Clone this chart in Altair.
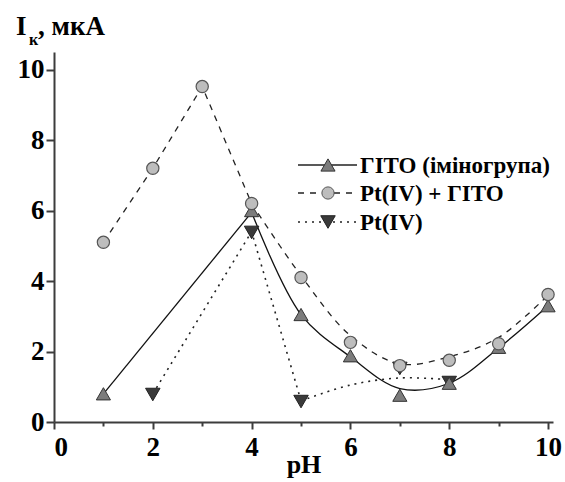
import altair as alt
import pandas as pd

# ---- data ----
ph_gito = [1, 4, 5, 6, 7, 8, 9, 10]
i_gito = [0.8, 6.0, 3.05, 1.88, 0.76, 1.1, 2.12, 3.3]

ph_mix = [1, 2, 3, 4, 5, 6, 7, 8, 9, 10]
i_mix = [5.1, 7.2, 9.52, 6.2, 4.1, 2.26, 1.6, 1.75, 2.22, 3.62]

ph_pt = [2, 4, 5, 7, 8]
i_pt = [0.78, 5.38, 0.58, 1.52, 1.12]

# fitted curves as drawn in the picture (straight part + smooth part)
gito_lin_x = [1, 4]
gito_lin_y = [0.8, 5.95]
gito_fit_x = [4, 5, 6, 7, 8, 9, 10]
gito_fit_y = [5.95, 3.05, 1.85, 0.95, 1.1, 2.1, 3.3]

mix_lin_x = [1, 2, 3, 4]
mix_lin_y = [5.1, 7.2, 9.52, 6.2]
mix_fit_x = [4, 5, 6, 7, 8, 9, 10]
mix_fit_y = [6.2, 4.15, 2.45, 1.65, 1.85, 2.4, 3.6]

pt_lin_x = [2, 4, 5]
pt_lin_y = [0.8, 5.4, 0.6]
pt_fit_x = [5, 6, 7, 8]
pt_fit_y = [0.6, 1.05, 1.25, 1.2]

legend_labels = ["ГІТО (імінoгрупа)", "Pt(IV) + ГІТО", "Pt(IV)"]

FONT = "Liberation Serif"
AX = "#3c3c3c"

x_scale = alt.Scale(domain=[0, 10.1], nice=False, zero=False)
y_scale = alt.Scale(domain=[0, 10.5], nice=False, zero=False)

x_axis = alt.Axis(
    values=list(range(0, 11)),
    labelExpr="datum.value % 2 === 0 ? datum.label : ''",
    labelOverlap=False,
    tickSize={"condition": {"test": "datum.value % 2 !== 0", "value": 4}, "value": 7},
    tickWidth=2, tickColor=AX, domainColor=AX, domainWidth=2,
    labelFont=FONT, labelFontWeight="bold", labelFontSize=27, labelColor="black",
    labelPadding=5, grid=False,
    title="pH", titleFont=FONT, titleFontWeight="bold", titleFontSize=26,
    titleColor="black", titlePadding=-9,
)
y_axis = alt.Axis(
    values=list(range(0, 11)),
    labelExpr="datum.value % 2 === 0 ? datum.label : ''",
    labelOverlap=False,
    tickSize={"condition": {"test": "datum.value % 2 !== 0", "value": 4}, "value": 8},
    tickWidth=2, tickColor=AX, domainColor=AX, domainWidth=2,
    labelFont=FONT, labelFontWeight="bold", labelFontSize=27, labelColor="black",
    labelPadding=2, grid=False, title=None,
)


def df(xs, ys):
    return pd.DataFrame({"ph": xs, "i": ys})


def enc(ch, first=False):
    if first:
        return ch.encode(
            x=alt.X("ph:Q", scale=x_scale, axis=x_axis),
            y=alt.Y("i:Q", scale=y_scale, axis=y_axis),
        )
    return ch.encode(
        x=alt.X("ph:Q", scale=x_scale),
        y=alt.Y("i:Q", scale=y_scale),
    )


LW = 1.3
# lines
l_mix_a = enc(alt.Chart(df(mix_lin_x, mix_lin_y)).mark_line(color="#222", strokeWidth=LW, strokeDash=[6, 6]), first=True)
l_mix_b = enc(alt.Chart(df(mix_fit_x, mix_fit_y)).mark_line(color="#222", strokeWidth=LW, strokeDash=[6, 6], interpolate="catmull-rom"))
l_gito_a = enc(alt.Chart(df(gito_lin_x, gito_lin_y)).mark_line(color="#111", strokeWidth=LW))
l_gito_b = enc(alt.Chart(df(gito_fit_x, gito_fit_y)).mark_line(color="#111", strokeWidth=LW, interpolate="catmull-rom"))
l_pt_a = enc(alt.Chart(df(pt_lin_x, pt_lin_y)).mark_line(color="#222", strokeWidth=LW + 0.3, strokeDash=[2, 5]))
l_pt_b = enc(alt.Chart(df(pt_fit_x, pt_fit_y)).mark_line(color="#222", strokeWidth=LW + 0.3, strokeDash=[2, 5], interpolate="catmull-rom"))

# markers
m_pt = enc(alt.Chart(df(ph_pt, i_pt)).mark_point(shape="triangle-down", size=210, filled=True, fill="#3a3a3a", stroke="#222", strokeWidth=1, opacity=1))
m_gito = enc(alt.Chart(df(ph_gito, i_gito)).mark_point(shape="triangle-up", size=200, filled=True, fill="#7c7c7c", stroke="#333", strokeWidth=1, opacity=1))
m_mix = enc(alt.Chart(df(ph_mix, i_mix)).mark_point(shape="circle", size=150, filled=True, fill="#bdbdbd", stroke="#555", strokeWidth=1.2, opacity=1))

# manual legend (pixel positions inside the plot area)
rows_y = [113, 141, 170]
lx1, lx2, mx, tx = 244, 303, 274, 306
leg_layers = []
dashes = [None, [6, 6], [2, 5]]
shapes = [("triangle-up", "#7c7c7c", "#333", 200), ("circle", "#bdbdbd", "#555", 150), ("triangle-down", "#3a3a3a", "#222", 210)]
for k in range(3):
    base = alt.Chart(pd.DataFrame({"t": [legend_labels[k]]}))
    rule_kw = dict(color="#222", strokeWidth=LW)
    if dashes[k] is not None:
        rule_kw["strokeDash"] = dashes[k]
    leg_layers.append(base.mark_rule(**rule_kw).encode(
        x=alt.value(lx1), x2=alt.value(lx2), y=alt.value(rows_y[k])))
    shp, fc, sc, sz = shapes[k]
    leg_layers.append(base.mark_point(shape=shp, size=sz, filled=True, fill=fc, stroke=sc, strokeWidth=1, opacity=1).encode(
        x=alt.value(mx), y=alt.value(rows_y[k])))
    leg_layers.append(base.mark_text(align="left", baseline="middle", font=FONT, fontWeight="bold", fontSize=23, color="black", dy=1).encode(
        text="t:N", x=alt.value(tx), y=alt.value(rows_y[k])))

# y-axis title "I_к, мкА"
def txt(s, x, y, size):
    return alt.Chart(pd.DataFrame({"t": [s]})).mark_text(
        align="left", baseline="alphabetic", font=FONT, fontWeight="bold", fontSize=size, color="black"
    ).encode(text="t:N", x=alt.value(x), y=alt.value(y))

title_layers = [txt("I", -38, -17, 27), txt("к", -25, -7, 16), txt(", мкА", -16, -17, 27)]

chart = alt.layer(
    l_mix_a, l_mix_b, l_gito_a, l_gito_b, l_pt_a, l_pt_b,
    m_pt, m_gito, m_mix,
    *leg_layers, *title_layers,
).properties(
    width=499, height=370,
    padding={"left": 54, "top": 52, "right": 12, "bottom": 60},
    autosize=alt.AutoSizeParams(type="none"),
    background="white",
).configure_view(stroke=None)

chart.save("out.html", embed_options={"renderer": "svg", "actions": False})
